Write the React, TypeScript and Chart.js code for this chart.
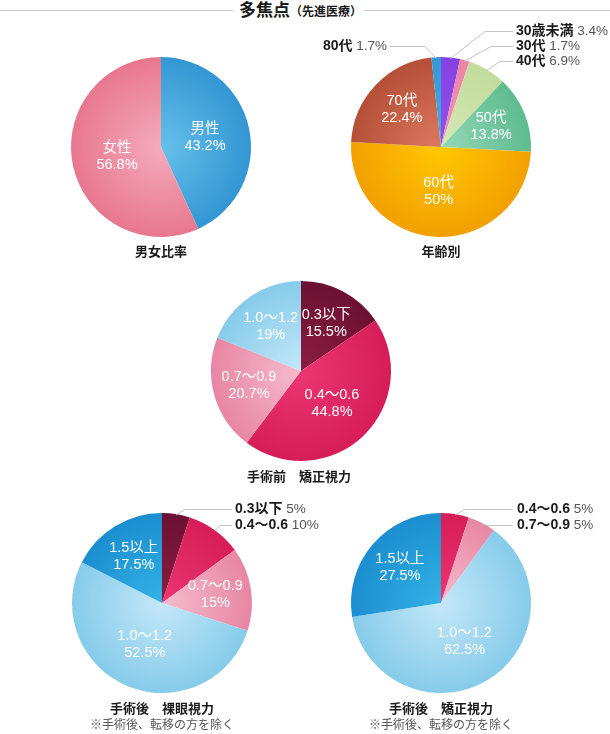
import React, { useEffect, useRef } from "react";
import { Chart, PieController, ArcElement } from "chart.js";

Chart.register(PieController, ArcElement);

const W = 610;
const H = 734;
const FONT = '"Liberation Sans", "Noto Sans CJK JP", sans-serif';

// ---- data ----
const genderLabels = ["男性", "女性"];
const genderValues = [43.2, 56.8];

const ageLabels = ["30歳未満", "30代", "40代", "50代", "60代", "70代", "80代"];
const ageValues = [3.4, 1.7, 6.9, 13.8, 50, 22.4, 1.7];

const preLabels = ["0.3以下", "0.4〜0.6", "0.7〜0.9", "1.0〜1.2"];
const preValues = [15.5, 44.8, 20.7, 19];

const postNakedLabels = ["0.3以下", "0.4〜0.6", "0.7〜0.9", "1.0〜1.2", "1.5以上"];
const postNakedValues = [5, 10, 15, 52.5, 17.5];

const postCorrLabels = ["0.4〜0.6", "0.7〜0.9", "1.0〜1.2", "1.5以上"];
const postCorrValues = [5, 5, 62.5, 27.5];

// ---- styles ----
const C = {
  male: ["#66c0ea", "#3396d3"],
  female: ["#f5abbc", "#e8778e"],
  purple: ["#9350ea", "#8542e2"],
  pinkS: ["#f293b2", "#ec84a6"],
  lgreen: ["#d6e9b6", "#c2db9a"],
  green: ["#93d9b7", "#5ebb90"],
  orange: ["#ffc800", "#f2a000"],
  brown: ["#dc7a60", "#b54f38"],
  blueS: ["#45aee3", "#3398d6"],
  maroon: ["#8c1c42", "#6c1131"],
  crimson: ["#ec3672", "#d61d58"],
  pink: ["#f6bccd", "#e886a3"],
  lblue: ["#c4e8f8", "#86cbea"],
  blue: ["#34b2e6", "#1b8ecf"],
};

type Outside = { elbow: [number, number]; endX: number; textX: number; textY: number; align: "left" | "right" };
type Spec = {
  labels: string[];
  values: number[];
  colors: string[][];
  cx: number;
  cy: number;
  r: number;
  outside: Record<number, Outside>;
};

const specs: Spec[] = [
  {
    labels: genderLabels,
    values: genderValues,
    colors: [C.male, C.female],
    cx: 161, cy: 147, r: 90,
    outside: {},
  },
  {
    labels: ageLabels,
    values: ageValues,
    colors: [C.purple, C.pinkS, C.lgreen, C.green, C.orange, C.brown, C.blueS],
    cx: 441, cy: 147, r: 90,
    outside: {
      0: { elbow: [485, 31], endX: 513, textX: 516, textY: 31, align: "left" },
      1: { elbow: [491, 46], endX: 513, textX: 516, textY: 46, align: "left" },
      2: { elbow: [500, 61], endX: 513, textX: 516, textY: 61, align: "left" },
      6: { elbow: [425, 46], endX: 390, textX: 387, textY: 46, align: "right" },
    },
  },
  {
    labels: preLabels,
    values: preValues,
    colors: [C.maroon, C.crimson, C.pink, C.lblue],
    cx: 301, cy: 371, r: 90,
    outside: {},
  },
  {
    labels: postNakedLabels,
    values: postNakedValues,
    colors: [C.maroon, C.crimson, C.pink, C.lblue, C.blue],
    cx: 162, cy: 603, r: 90,
    outside: {
      0: { elbow: [185, 509], endX: 232, textX: 235, textY: 509, align: "left" },
      1: { elbow: [220, 525], endX: 232, textX: 235, textY: 525, align: "left" },
    },
  },
  {
    labels: postCorrLabels,
    values: postCorrValues,
    colors: [C.crimson, C.pink, C.lblue, C.blue],
    cx: 441, cy: 603, r: 90,
    outside: {
      0: { elbow: [465, 509], endX: 513, textX: 517, textY: 509, align: "left" },
      1: { elbow: [488, 525], endX: 513, textX: 517, textY: 525, align: "left" },
    },
  },
];

function makeLabelPlugin(spec: Spec) {
  return {
    id: "pieLabels",
    afterDatasetsDraw(chart: any) {
      const ctx: CanvasRenderingContext2D = chart.ctx;
      const meta = chart.getDatasetMeta(0);
      const data = chart.data.datasets[0].data as number[];
      const labels = chart.data.labels as string[];
      ctx.save();
      meta.data.forEach((arc: any, i: number) => {
        const { x, y, startAngle, endAngle, outerRadius } = arc.getProps(
          ["x", "y", "startAngle", "endAngle", "outerRadius"],
          true
        );
        const mid = (startAngle + endAngle) / 2;
        const v = data[i];
        const valText = `${v}%`;
        const out = spec.outside[i];
        if (out) {
          const sx = x + Math.cos(mid) * (outerRadius - 1);
          const sy = y + Math.sin(mid) * (outerRadius - 1);
          ctx.strokeStyle = "#c4c4c4";
          ctx.lineWidth = 1;
          ctx.beginPath();
          ctx.moveTo(sx, sy);
          ctx.lineTo(out.elbow[0], out.elbow[1] + 0.5);
          ctx.lineTo(out.endX, out.elbow[1] + 0.5);
          ctx.stroke();
          const nameFont = `bold 14px ${FONT}`;
          const valFont = `13.5px ${FONT}`;
          ctx.font = nameFont;
          const nw = ctx.measureText(labels[i]).width;
          ctx.font = valFont;
          const sw = ctx.measureText(" ").width;
          const vw = ctx.measureText(valText).width;
          const total = nw + sw + vw;
          const left = out.align === "left" ? out.textX : out.textX - total;
          ctx.textBaseline = "middle";
          ctx.textAlign = "left";
          ctx.font = nameFont;
          ctx.fillStyle = "#1a1a1a";
          ctx.fillText(labels[i], left, out.textY);
          ctx.font = valFont;
          ctx.fillStyle = "#555555";
          ctx.fillText(valText, left + nw + sw, out.textY);
        } else {
          const f = v >= 40 ? 0.5 : 0.6;
          const lx = x + Math.cos(mid) * outerRadius * f;
          const ly = y + Math.sin(mid) * outerRadius * f;
          ctx.fillStyle = "#ffffff";
          ctx.textAlign = "center";
          ctx.textBaseline = "middle";
          ctx.font = `14.5px ${FONT}`;
          ctx.fillText(labels[i], lx, ly - 8.5);
          ctx.fillText(valText, lx, ly + 8.5);
        }
      });
      ctx.restore();
    },
  };
}

function PieCanvas({ spec }: { spec: Spec }) {
  const ref = useRef<HTMLCanvasElement>(null);
  useEffect(() => {
    const canvas = ref.current!;
    const c2d = canvas.getContext("2d")!;
    const bgs = spec.colors.map(([c0, c1]) => {
      const g = c2d.createRadialGradient(spec.cx, spec.cy, 0, spec.cx, spec.cy, spec.r);
      g.addColorStop(0, c0);
      g.addColorStop(1, c1);
      return g;
    });
    const chart = new Chart(canvas, {
      type: "pie",
      data: {
        labels: spec.labels,
        datasets: [{ data: spec.values, backgroundColor: bgs as any, borderWidth: 0 }],
      },
      options: {
        responsive: false,
        animation: false,
        events: [],
        layout: {
          padding: {
            left: spec.cx - spec.r,
            top: spec.cy - spec.r,
            right: W - spec.cx - spec.r,
            bottom: H - spec.cy - spec.r,
          },
        },
      },
      plugins: [makeLabelPlugin(spec) as any],
    });
    return () => chart.destroy();
  }, [spec]);
  return (
    <canvas
      ref={ref}
      width={W}
      height={H}
      style={{ position: "absolute", left: 0, top: 0, width: W, height: H }}
    />
  );
}

const titleStyle = (cx: number, cy: number, size: number, bold: boolean, color: string): React.CSSProperties => ({
  position: "absolute",
  left: cx - 150,
  top: cy - 9,
  width: 300,
  height: 18,
  lineHeight: "18px",
  textAlign: "center",
  fontFamily: FONT,
  fontSize: size,
  fontWeight: bold ? 700 : 400,
  color,
  whiteSpace: "nowrap",
});

export default function App() {
  return (
    <div
      style={{
        position: "absolute",
        left: 0,
        top: 0,
        width: W,
        height: H,
        background: "#ffffff",
        overflow: "hidden",
        fontFamily: FONT,
      }}
    >
      <div style={{ position: "absolute", left: 0, top: 10, width: 233, height: 1, background: "#cccccc" }} />
      <div style={{ position: "absolute", left: 364, top: 10, width: 246, height: 1, background: "#cccccc" }} />
      <div
        style={{
          position: "absolute",
          left: 239,
          top: 0,
          height: 22,
          lineHeight: "22px",
          whiteSpace: "nowrap",
          color: "#1a1a1a",
          fontFamily: FONT,
        }}
      >
        <span style={{ fontSize: 17, fontWeight: 700 }}>多焦点</span>
        <span style={{ fontSize: 12, fontWeight: 700 }}>（先進医療）</span>
      </div>

      {specs.map((s, i) => (
        <PieCanvas key={i} spec={s} />
      ))}

      <div style={titleStyle(161, 252, 13, true, "#1a1a1a")}>男女比率</div>
      <div style={titleStyle(441, 252, 13, true, "#1a1a1a")}>年齢別</div>
      <div style={titleStyle(299, 477, 13, true, "#1a1a1a")}>手術前　矯正視力</div>
      <div style={titleStyle(162, 709, 13, true, "#1a1a1a")}>手術後　裸眼視力</div>
      <div style={titleStyle(162, 725, 12, false, "#555555")}>※手術後、転移の方を除く</div>
      <div style={titleStyle(441, 709, 13, true, "#1a1a1a")}>手術後　矯正視力</div>
      <div style={titleStyle(441, 725, 12, false, "#555555")}>※手術後、転移の方を除く</div>
    </div>
  );
}
